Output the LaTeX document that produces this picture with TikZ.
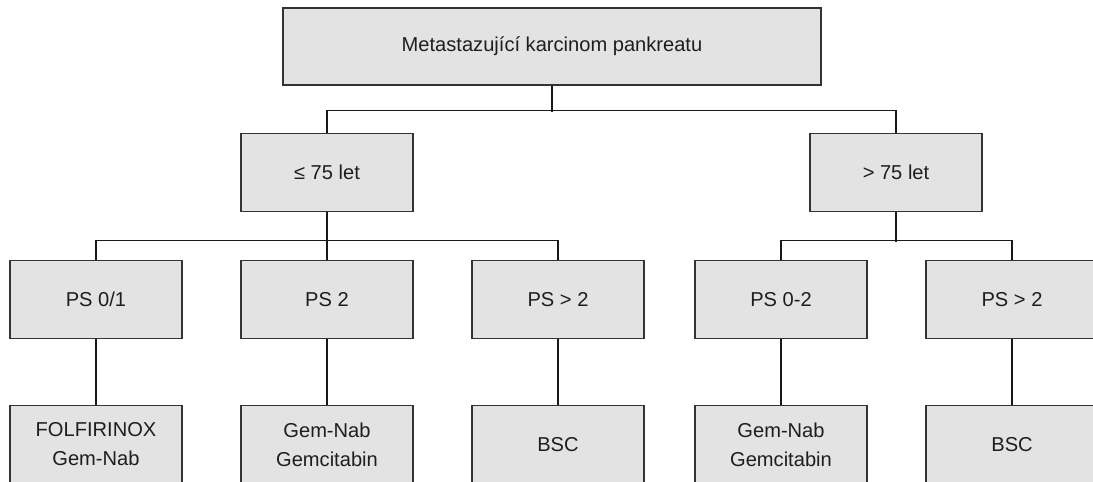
\documentclass[tikz,border=0pt]{standalone}
\usepackage{fontspec}
\setmainfont{Liberation Sans}
\definecolor{boxfill}{HTML}{E3E3E3}
\definecolor{boxline}{HTML}{333333}
\definecolor{inktext}{HTML}{1E1E1E}
\tikzset{
  stepbox/.style={draw=boxline, fill=boxfill, line width=0.9pt, minimum width=4.3cm,
    minimum height=1.95cm, inner sep=0pt, align=center, text=inktext,
    font=\fontsize{14.3}{20.6}\selectfont},
  topbox/.style={stepbox, minimum width=13.45cm, minimum height=1.925cm},
  link/.style={line width=0.75pt, draw=black!90}
}
\begin{document}
\begin{tikzpicture}

\useasboundingbox (0,0) rectangle (27.325,-12.05);
\clip (0,0) rectangle (27.325,-12.05);

% diagnosis
\node [topbox]  (diag) at (13.8,-1.1625) {Metastazující karcinom pankreatu};

% age
\node [stepbox] (young) at (8.175,-4.3125) {≤ 75 let};
\node [stepbox] (old)   at (22.4,-4.3125)  {> 75 let};

% performance status
\node [stepbox] (ps01)  at (2.4,-7.4875)   {PS 0/1};
\node [stepbox] (ps2)   at (8.175,-7.4875) {PS 2};
\node [stepbox] (psy3)  at (13.95,-7.4875) {PS > 2};
\node [stepbox] (ps02)  at (19.525,-7.4875) {PS 0-2};
\node [stepbox] (pso3)  at (25.3,-7.4875)  {PS > 2};

% treatment
\node [stepbox] (tfolf) at (2.4,-11.1125)   {FOLFIRINOX\\Gem-Nab};
\node [stepbox] (tgem)  at (8.175,-11.1125) {Gem-Nab\\Gemcitabin};
\node [stepbox] (tbscy) at (13.95,-11.1125) {BSC};
\node [stepbox] (tgemo) at (19.525,-11.1125) {Gem-Nab\\Gemcitabin};
\node [stepbox] (tbsco) at (25.3,-11.1125)  {BSC};

\begin{scope}[link]
\draw (diag.south) -- ++(0,-0.65);
\draw (young.north) -- ++(0,0.55) -| (old.north);

\draw (young.south) -- (ps2.north);
\draw (ps01.north) -- ++(0,0.475) -| (psy3.north);
\draw (old.south) -- ++(0,-0.75);
\draw (ps02.north) -- ++(0,0.475) -| (pso3.north);

\draw (ps01) -- (tfolf);
\draw (ps2) -- (tgem);
\draw (psy3) -- (tbscy);
\draw (ps02) -- (tgemo);
\draw (pso3) -- (tbsco);
\end{scope}

\end{tikzpicture}
\end{document}
